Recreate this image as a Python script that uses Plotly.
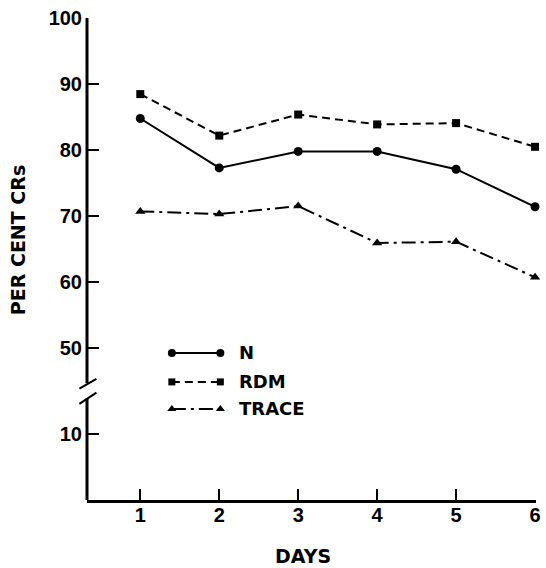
import plotly.graph_objects as go

# ---- data ----
days = [1, 2, 3, 4, 5, 6]
n_vals = [84.8, 77.3, 79.8, 79.8, 77.1, 71.4]
rdm_vals = [88.5, 82.2, 85.4, 83.9, 84.1, 80.5]
trace_vals = [70.7, 70.3, 71.5, 65.9, 66.1, 60.7]

x_ticks = [1, 2, 3, 4, 5, 6]
x_ticktext = ["1", "2", "3", "4", "5", "6"]
upper_ticks = [50, 60, 70, 80, 90, 100]
lower_ticks = [10]
LOWER_SHIFT = 26.9   # broken axis: lower segment value v drawn at v + LOWER_SHIFT
BREAK_LO, BREAK_HI = 42.3, 44.6

series = [
    ("N", n_vals, "solid", "circle", 9),
    ("RDM", rdm_vals, "8px,5px", "square", 8),
    ("TRACE", trace_vals, "14px,5px,3px,5px", "triangle-up", 9),
]

BOLD = dict(family="Liberation Sans, Arial, sans-serif", size=20, color="black", weight="bold")
WIDE = dict(family="DejaVu Sans, sans-serif", size=19, color="black", weight="bold")

fig = go.Figure()
for name, vals, dash, sym, msz in series:
    fig.add_trace(go.Scatter(
        x=days, y=vals, mode="lines+markers", name=name,
        line=dict(color="black", width=2, dash=dash),
        marker=dict(symbol=sym, size=msz, color="black"),
        cliponaxis=False, showlegend=False,
    ))

# legend samples on an overlay axis (0..1 in both directions)
leg_x = [0.189, 0.297]
leg_y = [0.305, 0.245, 0.189]
for (name, vals, dash, sym, msz), ly in zip(series, leg_y):
    fig.add_trace(go.Scatter(
        x=leg_x, y=[ly, ly], xaxis="x2", yaxis="y2", mode="lines+markers",
        line=dict(color="black", width=2, dash=dash),
        marker=dict(symbol=sym, size=msz - 1, color="black"),
        showlegend=False, cliponaxis=False, hoverinfo="skip",
    ))
    fig.add_annotation(x=0.333, y=ly, xref="x2", yref="y2", text=name,
                       showarrow=False, xanchor="left", yanchor="middle",
                       font=dict(family="DejaVu Sans, sans-serif", size=18, color="black", weight="bold"))

y_tickvals = [v + LOWER_SHIFT for v in lower_ticks] + upper_ticks
y_ticktext = [str(v) for v in lower_ticks] + [str(v) for v in upper_ticks]

fig.update_layout(
    width=546, height=568,
    margin=dict(l=87, r=5, t=18, b=68),
    paper_bgcolor="white", plot_bgcolor="white",
    xaxis=dict(range=[0.325, 6.012], tickvals=x_ticks, ticktext=x_ticktext,
               showgrid=False, zeroline=False, showline=True, linecolor="black",
               linewidth=3, ticks="inside", ticklen=11, tickwidth=2, tickcolor="black",
               tickfont=BOLD, ticklabelstandoff=-5),
    yaxis=dict(range=[LOWER_SHIFT, 100.05], tickvals=y_tickvals, ticktext=y_ticktext,
               showgrid=False, zeroline=False, showline=False,
               ticks="inside", ticklen=12, tickwidth=2, tickcolor="black",
               tickfont=BOLD, ticklabelstandoff=4),
    xaxis2=dict(range=[0, 1], overlaying="x", visible=False),
    yaxis2=dict(range=[0, 1], overlaying="y", visible=False),
)

# broken y-axis line
fig.add_shape(type="line", xref="paper", yref="y", x0=0, x1=0, y0=LOWER_SHIFT - 0.2, y1=BREAK_LO,
              line=dict(color="black", width=3))
fig.add_shape(type="line", xref="paper", yref="y", x0=0, x1=0, y0=BREAK_HI, y1=100.2,
              line=dict(color="black", width=3))
fig.add_shape(type="line", xref="paper", yref="y", x0=-0.017, x1=0.021, y0=43.8, y1=45.3,
              line=dict(color="black", width=2))
fig.add_shape(type="line", xref="paper", yref="y", x0=-0.017, x1=0.021, y0=41.5, y1=43.2,
              line=dict(color="black", width=2))

fig.add_annotation(text="PER CENT CRs", xref="paper", yref="paper", x=0, y=0.539,
                   xshift=-69, textangle=-90, showarrow=False,
                   xanchor="center", yanchor="middle", font=WIDE)
fig.add_annotation(text="DAYS", xref="paper", yref="paper", x=0.482, y=0,
                   yshift=-56, showarrow=False, xanchor="center", yanchor="middle", font=WIDE)

fig.write_html("out.html", config={"displayModeBar": False},
               post_script="document.body.style.margin='0';document.body.style.overflow='hidden';")
